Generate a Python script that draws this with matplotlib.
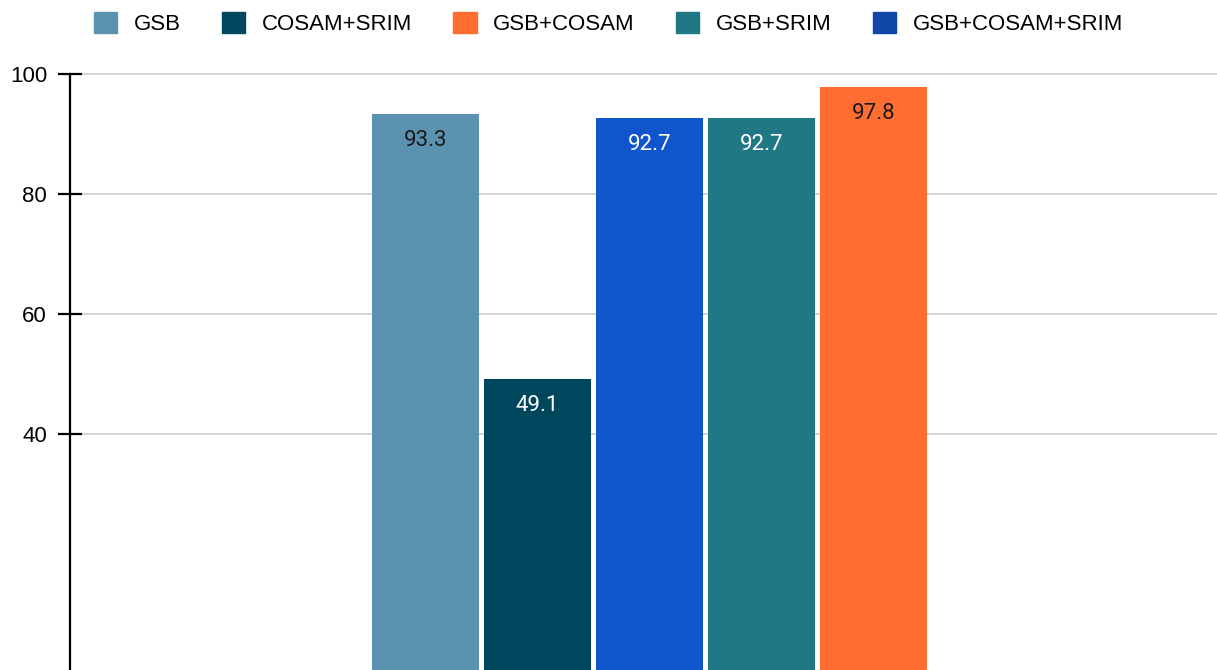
import matplotlib.pyplot as plt
from matplotlib.patches import Patch

# dane
bar_names = ["GSB", "COSAM+SRIM", "GSB+COSAM+SRIM", "GSB+SRIM", "GSB+COSAM"]
bar_values = [93.3, 49.1, 92.7, 92.7, 97.8]
bar_colors = ["#5a92b0", "#00475e", "#1155cc", "#1f7884", "#ff6d31"]
label_colors = ["#1a1a1a", "white", "white", "white", "#1a1a1a"]

legend_names = ["GSB", "COSAM+SRIM", "GSB+COSAM", "GSB+SRIM", "GSB+COSAM+SRIM"]
legend_colors = ["#5a92b0", "#00475e", "#ff6d31", "#1f7884", "#1147a8"]

y_ticks = [40, 60, 80, 100]

plt.rcParams['font.family'] = ['Liberation Sans', 'DejaVu Sans']

fig = plt.figure(figsize=(12.17, 6.70), dpi=100)
ax = fig.add_axes([70 / 1217, -4 / 670, 1147 / 1217, 615 / 670])

x = list(range(len(bar_values)))
bars = ax.bar(x, bar_values, width=0.955, color=bar_colors, zorder=3)

for b, v, c in zip(bars, bar_values, label_colors):
    ax.annotate(f"{v}", (b.get_x() + b.get_width() / 2, v),
                xytext=(0, -19), textcoords="offset points",
                ha="center", va="center", fontsize=16, color=c,
                family=["Roboto", "DejaVu Sans"], zorder=4)

ax.set_ylim(0, 102.5)
ax.set_xlim(-3.174, 7.067)
ax.set_yticks(y_ticks)
ax.set_xticks([])
ax.grid(axis="y", color="#cccccc", linewidth=1.2, zorder=0)
for s in ["top", "right", "bottom"]:
    ax.spines[s].set_visible(False)
ax.spines["left"].set_linewidth(1.6)
ax.spines["left"].set_color("black")
ax.spines["left"].set_bounds(0, 100)
ax.tick_params(axis="y", direction="inout", length=17, width=1.6,
               labelsize=16, pad=8, colors="black")

handles = [Patch(facecolor=c, edgecolor=c, label=n) for n, c in zip(legend_names, legend_colors)]
fig.legend(handles=handles, loc="upper center", bbox_to_anchor=(0.5, 1.012), ncol=5,
           frameon=False, fontsize=16, handlelength=1.05, handleheight=1.05,
           handletextpad=0.75, columnspacing=1.85)

fig.savefig("out.png", dpi=100)
